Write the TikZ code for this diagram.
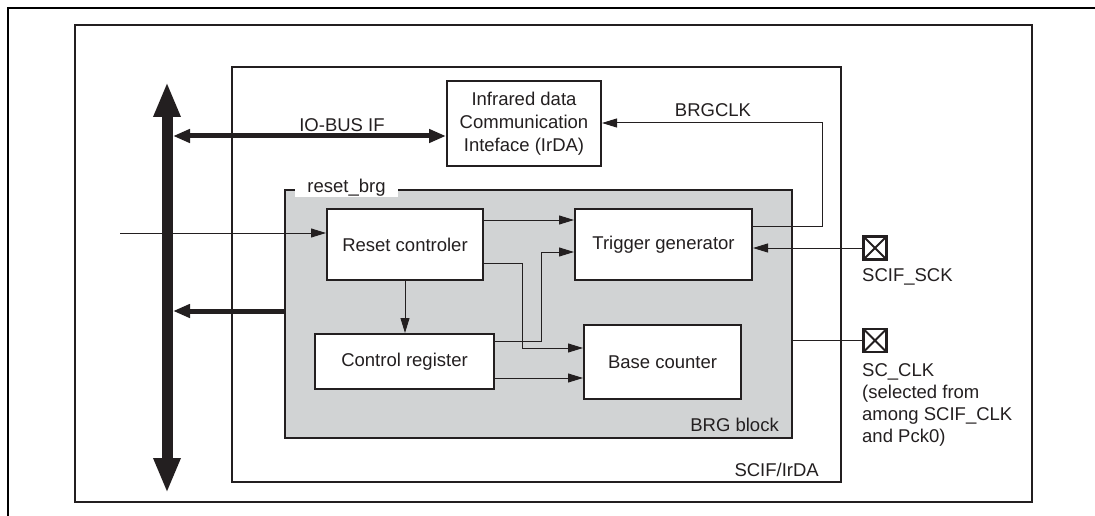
\documentclass[tikz,border=0pt]{standalone}
\usepackage{fontspec}
\setmainfont{Liberation Sans}
\usetikzlibrary{arrows.meta}
\definecolor{ln}{HTML}{231F20}
\definecolor{gfill}{HTML}{D1D3D4}
\begin{document}
\begin{tikzpicture}[x=1pt,y=-1pt,
  font=\fontsize{18.5pt}{23pt}\selectfont, text=ln,
  frame/.style={draw=ln, line width=2pt, inner sep=0pt},
  box/.style={draw=ln, line width=2pt, fill=white, inner sep=0pt, align=center},
  conn/.style={draw=ln, line width=1pt},
  arr/.style={conn, -{Triangle[length=15pt,width=9pt]}},
  busarr/.style={draw=ln, line width=5pt, -{Triangle[length=17pt,width=13pt]}},
  dbusarr/.style={draw=ln, line width=5pt, {Triangle[length=17pt,width=13pt]}-{Triangle[length=17pt,width=13pt]}},
  pad/.style={draw=ln, line width=2.5pt, minimum size=23pt, inner sep=0pt,
    path picture={\draw[ln, line width=2pt]
      (path picture bounding box.north west) -- (path picture bounding box.south east)
      (path picture bounding box.north east) -- (path picture bounding box.south west);}}
]
\useasboundingbox (0,0) rectangle (1095,516);
% page frame
\draw[line width=2.5pt, black] (1095,8) -- (8,8) -- (8,516);
% containers
\node[frame, minimum width=957pt, minimum height=477pt] (outer) at (553.5,263.5) {};
\node[frame, minimum width=609pt, minimum height=415pt] (scif) at (536.5,274.5) {};
\node[frame, fill=gfill, minimum width=507pt, minimum height=248pt] (brg) at (538.5,314) {};
\node[fill=white, inner xsep=12pt, inner ysep=0pt, minimum height=19pt] (rblbl) at (346.5,187.5) {reset\_brg};
\node[anchor=east, inner sep=0pt] (brglbl) at (779,425) {BRG block};
\node[anchor=east, inner sep=0pt] (sciflbl) at (819,470) {SCIF/IrDA};
% blocks
\node[box, minimum width=154pt, minimum height=85pt] (irda) at (524,123.5) {\raisebox{-3pt}{\begin{tabular}{@{}c@{}}Infrared data\\Communication\\Inteface (IrDA)\end{tabular}}};
\node[box, minimum width=156pt, minimum height=71pt] (rc) at (405,244.5) {Reset controler};
\node[box, minimum width=179pt, minimum height=55pt] (cr) at (404.5,361.5) {Control register};
\node[box, minimum width=177pt, minimum height=71pt] (tg) at (663.5,244.5) {Trigger generator};
\node[box, minimum width=157pt, minimum height=74pt] (bc) at (662.5,362) {Base counter};
% pads
\node[pad] (sck) at (875,248) {};
\node[pad] (sclk) at (875,340.5) {};
\node[anchor=west, inner sep=0pt] (scklbl) at (862,277) {SCIF\_SCK};
\node[anchor=north west, inner sep=0pt, align=left, font=\fontsize{18.5pt}{22pt}\selectfont] (sclklbl) at (862,363.5) {SC\_CLK\\(selected from\\among SCIF\_CLK\\and Pck0)};
% bus
\coordinate (busTop) at (167,82);
\coordinate (busBot) at (167,493);
\draw[draw=ln, line width=11pt, {Triangle[length=35pt,width=25pt]}-{Triangle[length=35pt,width=25pt]}] (busTop) -- (busBot);
\coordinate (busIO) at (173,136);
\coordinate (busBRG) at (173,311);
\draw[dbusarr] (busIO) -- (irda.west |- busIO);
\node[inner sep=0pt] (iolbl) at (342,125) {IO-BUS IF};
\draw[busarr] (brg.west |- busBRG) -- (busBRG);
% input
\coordinate (in) at (120,233);
\draw[arr] (in) -- (rc.west |- in);
% internal connectors
\draw[arr] (rc.east |- 0,220) -- (tg.west |- 0,220);
\draw[arr] (rc.east |- 0,263) -- (522,263) -- (522,348) -- (bc.west |- 0,348);
\draw[arr] (cr.east |- 0,341) -- (541,341) -- (541,252) -- (tg.west |- 0,252);
\draw[arr] (cr.east |- 0,378) -- (bc.west |- 0,378);
\draw[arr] (rc.south) -- (rc.south |- cr.north);
% BRGCLK
\draw[arr] (tg.east |- 0,226) -- (822,226) -- (822,123) -- (irda.east |- 0,123);
\node[inner sep=0pt] (brgclk) at (713,110) {BRGCLK};
% pads connectors
\draw[arr] (sck.west) -- (tg.east |- sck.west);
\draw[conn] (brg.east |- sclk.west) -- (sclk.west);
\end{tikzpicture}
\end{document}
